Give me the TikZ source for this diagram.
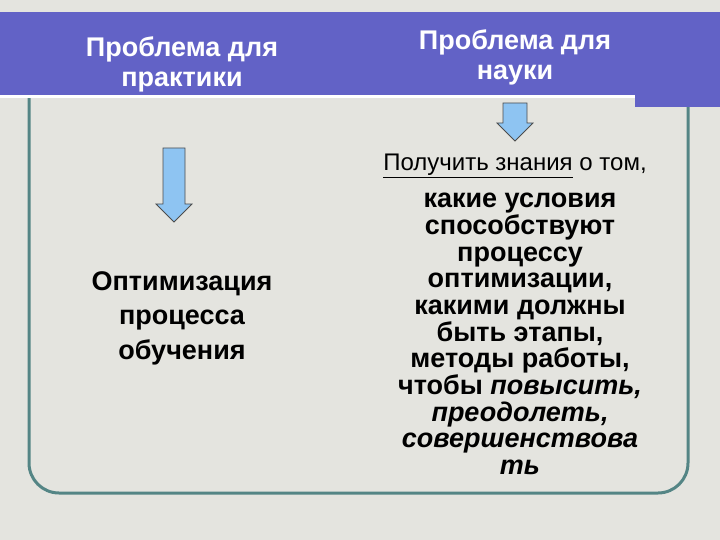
\documentclass[tikz,border=0pt]{standalone}
\usepackage{fontspec}
\setmainfont{Liberation Sans}
\begin{document}
\begin{tikzpicture}[x=1pt,y=-1pt,
  hdr/.style={text=white,font=\fontsize{27}{30}\selectfont\bfseries,align=center,inner sep=0},
  body/.style={text=black,font=\fontsize{27}{26.7}\selectfont\bfseries,align=center,inner sep=0},
  darrow/.style={draw=black!70,fill=arrowblue,line width=0.8pt}]
\definecolor{bg}{HTML}{E4E4DF}
\definecolor{band}{HTML}{6262C6}
\definecolor{frame}{HTML}{548585}
\definecolor{arrowblue}{HTML}{8EC4F2}
\useasboundingbox (0,0) rectangle (720,540);
\fill[bg] (0,0) rectangle (720,540);
\draw[frame,line width=3pt,rounded corners=30pt] (29,90) -- (29,493) -- (688,493) -- (688,90);
\fill[band] (0,12) rectangle (720,95);
\fill[band] (635,95) rectangle (720,107);
\draw[white,line width=3pt] (0,97) -- (635,97);
\node[hdr] (h1) at (182,64) {Проблема для\\практики};
\node[hdr] (h2) at (515,57) {Проблема для\\науки};
\draw[darrow] (163,148) -- (185,148) -- (185,204) -- (192,204) -- (174,222) -- (156,204) -- (163,204) -- cycle;
\draw[darrow] (503,103) -- (527,103) -- (527,123) -- (533,123) -- (515,141) -- (497,123) -- (503,123) -- cycle;
\node[body,font=\fontsize{27}{34.5}\selectfont\bfseries] (l) at (182,318) {Оптимизация\\процесса\\обучения};
\node[text=black,font=\fontsize{24}{26}\selectfont,inner sep=0] (g) at (515,166) {\underline{Получить знания} о том,};
\node[body] (r) at (520,334) {какие условия\\способствуют\\процессу\\оптимизации,\\какими должны\\быть этапы,\\методы работы,\\чтобы \textit{повысить,}\\\textit{преодолеть,}\\\textit{совершенствова}\\\textit{ть}};
\end{tikzpicture}
\end{document}
